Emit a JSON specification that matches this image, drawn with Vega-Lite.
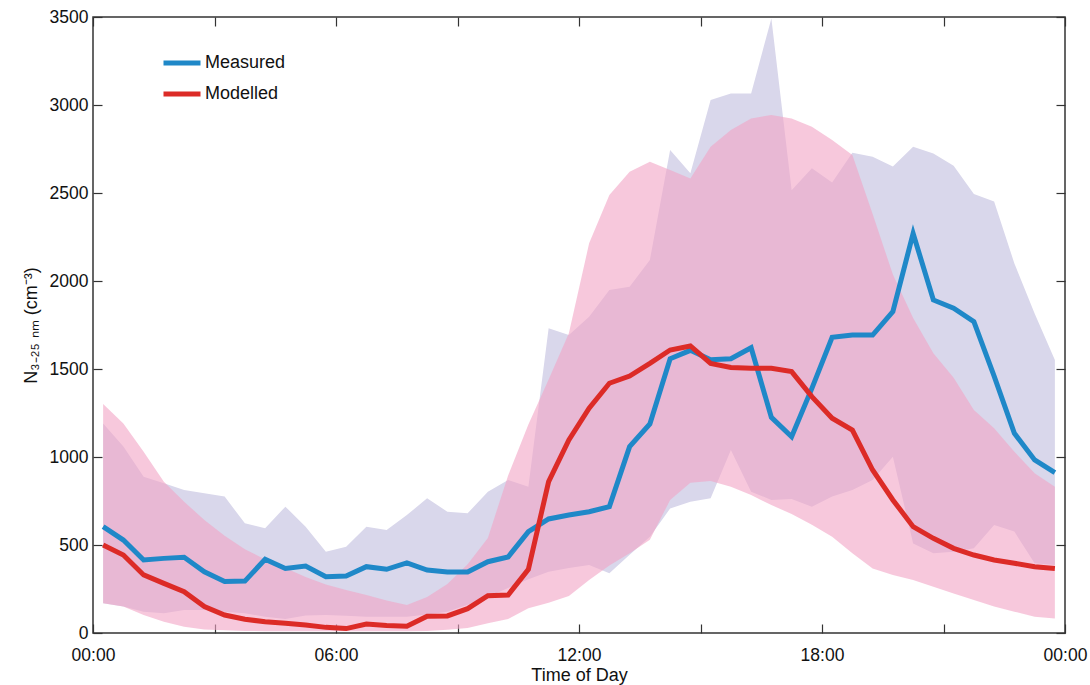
{
  "$schema": "https://vega.github.io/schema/vega-lite/v6.json",
  "width": 972,
  "height": 616,
  "autosize": {"type": "none"},
  "padding": {"left": 93, "top": 17, "right": 25, "bottom": 52},
  "config": {
    "view": {"stroke": "#333333", "strokeWidth": 1.5},
    "font": "Liberation Sans",
    "axis": {
      "domain": false,
      "grid": false,
      "tickColor": "#333333",
      "tickWidth": 1.2,
      "tickSize": -9,
      "labelColor": "#111111",
      "labelFontSize": 17.5,
      "titleColor": "#111111",
      "titleFontWeight": "normal"
    }
  },
  "data": {
    "values": [
      {"t": 0.25, "meas": 604, "mod": 500, "meas_lo": 169, "meas_hi": 1191, "mod_lo": 169, "mod_hi": 1301},
      {"t": 0.75, "meas": 528, "mod": 443, "meas_lo": 150, "meas_hi": 1059, "mod_lo": 150, "mod_hi": 1191},
      {"t": 1.25, "meas": 415, "mod": 330, "meas_lo": 121, "meas_hi": 888, "mod_lo": 102, "mod_hi": 1030},
      {"t": 1.75, "meas": 424, "mod": 282, "meas_lo": 112, "meas_hi": 851, "mod_lo": 64, "mod_hi": 860},
      {"t": 2.25, "meas": 430, "mod": 235, "meas_lo": 131, "meas_hi": 813, "mod_lo": 36, "mod_hi": 746},
      {"t": 2.75, "meas": 348, "mod": 150, "meas_lo": 131, "meas_hi": 794, "mod_lo": 20, "mod_hi": 642},
      {"t": 3.25, "meas": 292, "mod": 102, "meas_lo": 121, "meas_hi": 775, "mod_lo": 15, "mod_hi": 552},
      {"t": 3.75, "meas": 295, "mod": 78, "meas_lo": 112, "meas_hi": 623, "mod_lo": 12, "mod_hi": 476},
      {"t": 4.25, "meas": 419, "mod": 64, "meas_lo": 93, "meas_hi": 595, "mod_lo": 10, "mod_hi": 418},
      {"t": 4.75, "meas": 367, "mod": 55, "meas_lo": 80, "meas_hi": 718, "mod_lo": 10, "mod_hi": 370},
      {"t": 5.25, "meas": 380, "mod": 45, "meas_lo": 100, "meas_hi": 604, "mod_lo": 10, "mod_hi": 318},
      {"t": 5.75, "meas": 320, "mod": 32, "meas_lo": 102, "meas_hi": 462, "mod_lo": 10, "mod_hi": 275},
      {"t": 6.25, "meas": 324, "mod": 25, "meas_lo": 98, "meas_hi": 490, "mod_lo": 10, "mod_hi": 245},
      {"t": 6.75, "meas": 377, "mod": 51, "meas_lo": 93, "meas_hi": 604, "mod_lo": 10, "mod_hi": 216},
      {"t": 7.25, "meas": 362, "mod": 42, "meas_lo": 93, "meas_hi": 585, "mod_lo": 10, "mod_hi": 185},
      {"t": 7.75, "meas": 398, "mod": 38, "meas_lo": 93, "meas_hi": 670, "mod_lo": 10, "mod_hi": 159},
      {"t": 8.25, "meas": 358, "mod": 95, "meas_lo": 105, "meas_hi": 765, "mod_lo": 12, "mod_hi": 205},
      {"t": 8.75, "meas": 347, "mod": 97, "meas_lo": 121, "meas_hi": 689, "mod_lo": 18, "mod_hi": 278},
      {"t": 9.25, "meas": 347, "mod": 138, "meas_lo": 160, "meas_hi": 680, "mod_lo": 28, "mod_hi": 390},
      {"t": 9.75, "meas": 405, "mod": 212, "meas_lo": 206, "meas_hi": 803, "mod_lo": 55, "mod_hi": 540},
      {"t": 10.25, "meas": 432, "mod": 216, "meas_lo": 255, "meas_hi": 869, "mod_lo": 80, "mod_hi": 895},
      {"t": 10.75, "meas": 576, "mod": 362, "meas_lo": 305, "meas_hi": 831, "mod_lo": 140, "mod_hi": 1185},
      {"t": 11.25, "meas": 648, "mod": 860, "meas_lo": 348, "meas_hi": 1731, "mod_lo": 172, "mod_hi": 1440},
      {"t": 11.75, "meas": 670, "mod": 1097, "meas_lo": 370, "meas_hi": 1693, "mod_lo": 210, "mod_hi": 1703},
      {"t": 12.25, "meas": 689, "mod": 1277, "meas_lo": 386, "meas_hi": 1797, "mod_lo": 301, "mod_hi": 2214},
      {"t": 12.75, "meas": 718, "mod": 1419, "meas_lo": 339, "meas_hi": 1949, "mod_lo": 383, "mod_hi": 2489},
      {"t": 13.25, "meas": 1059, "mod": 1460, "meas_lo": 445, "meas_hi": 1968, "mod_lo": 453, "mod_hi": 2621},
      {"t": 13.75, "meas": 1188, "mod": 1532, "meas_lo": 547, "meas_hi": 2119, "mod_lo": 530, "mod_hi": 2678},
      {"t": 14.25, "meas": 1558, "mod": 1608, "meas_lo": 708, "meas_hi": 2744, "mod_lo": 756, "mod_hi": 2631},
      {"t": 14.75, "meas": 1606, "mod": 1631, "meas_lo": 746, "meas_hi": 2612, "mod_lo": 854, "mod_hi": 2583},
      {"t": 15.25, "meas": 1553, "mod": 1532, "meas_lo": 765, "meas_hi": 3028, "mod_lo": 864, "mod_hi": 2763},
      {"t": 15.75, "meas": 1558, "mod": 1509, "meas_lo": 1040, "meas_hi": 3066, "mod_lo": 831, "mod_hi": 2858},
      {"t": 16.25, "meas": 1621, "mod": 1504, "meas_lo": 803, "meas_hi": 3066, "mod_lo": 784, "mod_hi": 2924},
      {"t": 16.75, "meas": 1225, "mod": 1504, "meas_lo": 756, "meas_hi": 3492, "mod_lo": 727, "mod_hi": 2943},
      {"t": 17.25, "meas": 1115, "mod": 1485, "meas_lo": 761, "meas_hi": 2515, "mod_lo": 676, "mod_hi": 2924},
      {"t": 17.75, "meas": 1390, "mod": 1343, "meas_lo": 718, "meas_hi": 2640, "mod_lo": 615, "mod_hi": 2877},
      {"t": 18.25, "meas": 1680, "mod": 1220, "meas_lo": 775, "meas_hi": 2559, "mod_lo": 547, "mod_hi": 2801},
      {"t": 18.75, "meas": 1693, "mod": 1153, "meas_lo": 813, "meas_hi": 2729, "mod_lo": 453, "mod_hi": 2716},
      {"t": 19.25, "meas": 1693, "mod": 926, "meas_lo": 869, "meas_hi": 2706, "mod_lo": 367, "mod_hi": 2380},
      {"t": 19.75, "meas": 1826, "mod": 756, "meas_lo": 1002, "meas_hi": 2650, "mod_lo": 330, "mod_hi": 2037},
      {"t": 20.25, "meas": 2270, "mod": 604, "meas_lo": 509, "meas_hi": 2763, "mod_lo": 301, "mod_hi": 1790},
      {"t": 20.75, "meas": 1892, "mod": 538, "meas_lo": 453, "meas_hi": 2725, "mod_lo": 263, "mod_hi": 1589},
      {"t": 21.25, "meas": 1845, "mod": 481, "meas_lo": 462, "meas_hi": 2655, "mod_lo": 225, "mod_hi": 1450},
      {"t": 21.75, "meas": 1769, "mod": 443, "meas_lo": 481, "meas_hi": 2494, "mod_lo": 188, "mod_hi": 1267},
      {"t": 22.25, "meas": 1460, "mod": 415, "meas_lo": 614, "meas_hi": 2451, "mod_lo": 150, "mod_hi": 1163},
      {"t": 22.75, "meas": 1135, "mod": 396, "meas_lo": 576, "meas_hi": 2100, "mod_lo": 121, "mod_hi": 1030},
      {"t": 23.25, "meas": 983, "mod": 377, "meas_lo": 396, "meas_hi": 1816, "mod_lo": 93, "mod_hi": 907},
      {"t": 23.75, "meas": 911, "mod": 367, "meas_lo": 386, "meas_hi": 1551, "mod_lo": 83, "mod_hi": 831}
    ]
  },
  "layer": [
    {
      "mark": {"type": "area", "color": "#d9d7eb", "opacity": 1},
      "encoding": {
        "x": {
          "field": "t", "type": "quantitative",
          "scale": {"domain": [0, 24], "nice": false, "zero": false},
          "axis": {
            "orient": "bottom",
            "values": [0, 3, 6, 9, 12, 15, 18, 21, 24],
            "labelExpr": "datum.value % 6 === 0 ? (datum.value % 24 === 0 ? '00:00' : (datum.value < 10 ? '0' : '') + datum.value + ':00') : ''",
            "labelPadding": 22,
            "labelFlush": false,
            "title": "Time of Day",
            "titleFontSize": 18,
            "titlePadding": 3
          }
        },
        "y": {
          "field": "meas_lo", "type": "quantitative",
          "scale": {"domain": [0, 3500], "nice": false},
          "axis": {
            "orient": "left",
            "values": [0, 500, 1000, 1500, 2000, 2500, 3000, 3500],
            "format": "d",
            "labelPadding": 14,
            "labelFlush": false,
            "title": "N₃₋₂₅ ₙₘ   (cm⁻³)",
            "titleFontSize": 18,
            "titlePadding": 9
          }
        },
        "y2": {"field": "meas_hi"}
      }
    },
    {
      "mark": {"type": "area", "color": "#f2a3c5", "opacity": 0.6},
      "encoding": {
        "x": {
          "field": "t", "type": "quantitative",
          "axis": {"orient": "top", "values": [0, 3, 6, 9, 12, 15, 18, 21, 24], "labels": false, "title": null}
        },
        "y": {
          "field": "mod_lo", "type": "quantitative",
          "axis": {"orient": "right", "values": [0, 500, 1000, 1500, 2000, 2500, 3000, 3500], "labels": false, "title": null}
        },
        "y2": {"field": "mod_hi"}
      }
    },
    {
      "mark": {"type": "line", "strokeWidth": 5},
      "encoding": {
        "x": {"field": "t", "type": "quantitative", "axis": null},
        "y": {"field": "meas", "type": "quantitative", "axis": null},
        "color": {
          "datum": "Measured", "type": "nominal",
          "scale": {"domain": ["Measured", "Modelled"], "range": ["#1f88c8", "#dc2b27"]},
          "legend": {
            "orient": "none", "legendX": 68, "legendY": 25, "title": null,
            "symbolType": "stroke", "symbolSize": 1369, "symbolStrokeWidth": 5,
            "labelFontSize": 18, "labelColor": "#111111", "labelOffset": 2,
            "rowPadding": -8, "padding": 0
          }
        }
      }
    },
    {
      "mark": {"type": "line", "strokeWidth": 5},
      "encoding": {
        "x": {"field": "t", "type": "quantitative", "axis": null},
        "y": {"field": "mod", "type": "quantitative", "axis": null},
        "color": {"datum": "Modelled", "type": "nominal"}
      }
    }
  ],
  "resolve": {"axis": {"x": "independent", "y": "independent"}}
}
